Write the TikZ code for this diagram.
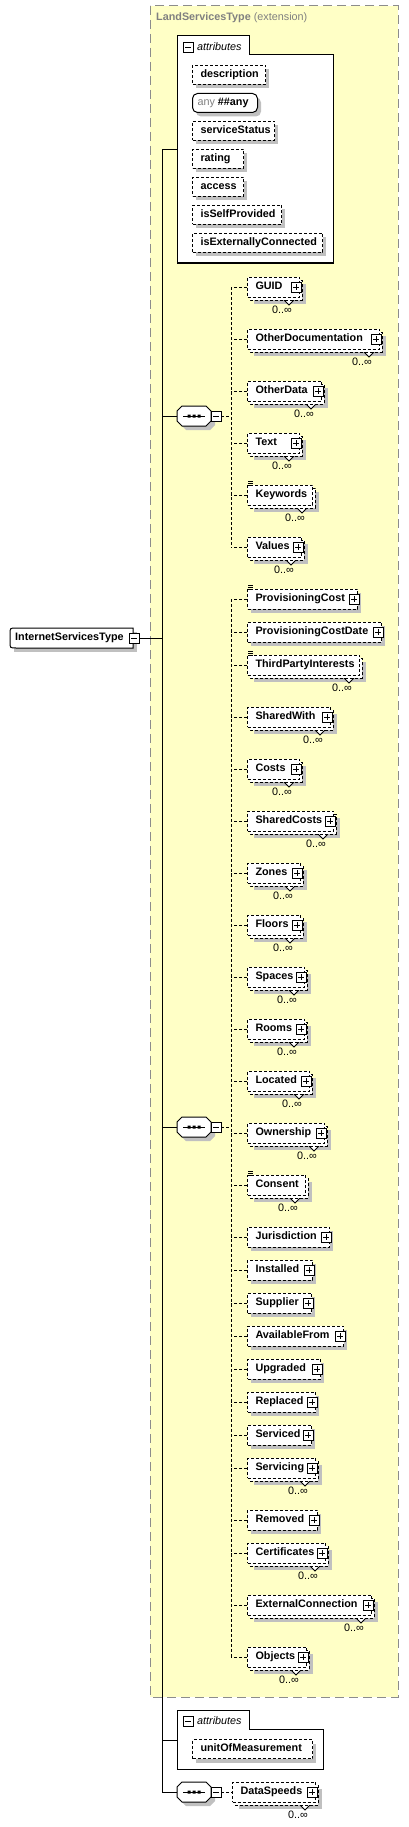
\documentclass[tikz,border=0pt]{standalone}
\usepackage{fontspec}
\setmainfont{Liberation Sans}

\definecolor{extyellow}{RGB}{255,255,198}
\definecolor{framegray}{RGB}{140,140,140}
\definecolor{shadowgray}{RGB}{192,192,192}
\definecolor{titlegray}{RGB}{128,128,128}

\tikzset{
  solidln/.style={line width=1pt},
  dashln/.style={line width=1pt, dash pattern=on 3pt off 2pt},
  shadowfill/.style={fill=shadowgray},
  iconln/.style={line width=0.8pt},
  extframe/.style={draw=framegray, fill=extyellow, line width=1pt, dash pattern=on 9pt off 5pt},
  attrgroup/.style={draw, solidln, fill=white},
  elem/.style={draw, dashln, fill=white, anchor=west, minimum height=20pt, inner xsep=8pt, inner ysep=0pt,
    text height=7.5pt, text depth=2.5pt, align=left, font=\fontsize{10.8}{13}\selectfont\bfseries},
  attr/.style={elem, minimum height=19pt},
  card/.style={inner sep=0pt, font=\fontsize{10.8}{13}\selectfont},
  basetitle/.style={anchor=west, inner sep=0pt, text=titlegray, font=\fontsize{10.8}{13}\selectfont},
  attrlabel/.style={anchor=west, inner sep=0pt, font=\fontsize{10.8}{13}\selectfont\itshape},
  rootname/.style={anchor=west, inner sep=0pt, font=\fontsize{10.8}{13}\selectfont\bfseries},
  anybox/.style={draw, solidln, fill=white, rounded corners=5pt, anchor=west, minimum height=19pt,
    inner xsep=5pt, inner ysep=0pt, text height=7.5pt, text depth=2.5pt, align=left,
    font=\fontsize{10.8}{13}\selectfont\bfseries},
  minusbox/.pic={
    \draw[solidln, fill=white] (-5,-5) rectangle (5,5);
    \draw[solidln] (-3,0) -- (3,0);
  },
  plusbox/.pic={
    \draw[solidln, fill=white] (-5,-5) rectangle (5,5);
    \draw[solidln] (-3,0) -- (3,0) (0,-3) -- (0,3);
  },
  seqsym/.pic={
    \fill[shadowfill] (-13,-1) -- (-8,-6) -- (16,-6) -- (21,-1) -- (21,9) -- (16,14) -- (-8,14) -- (-13,9) -- cycle;
    \draw[solidln, fill=white] (-17,-5) -- (-12,-10) -- (12,-10) -- (17,-5) -- (17,5) -- (12,10) -- (-12,10) -- (-17,5) -- cycle;
    \draw[solidln] (-11,0) -- (11,0);
    \fill (-6.5,-1.5) rectangle (-3.5,1.5) (-1.5,-1.5) rectangle (1.5,1.5) (3.5,-1.5) rectangle (6.5,1.5);
    \draw[solidln, fill=white] (17,-5) rectangle (27,5);
    \draw[solidln] (19,0) -- (25,0);
    \coordinate (-in) at (-17,0);
    \coordinate (-out) at (27,0);
  }
}

\begin{document}
\begin{tikzpicture}[x=1pt, y=-1pt]
\useasboundingbox (0,0) rectangle (408,1827);

\draw[extframe] (150,6) rectangle (398,1697);
\node[basetitle] (base) at (156,18) {\textbf{LandServicesType} (extension)};

% attributes of the base type
\draw[attrgroup] (177,36) -- (249,36) -- (249,55) -- (333,55) -- (333,263) -- (177,263) -- cycle;
\pic at (188,47.5) {minusbox};
\node[attrlabel] (attr1lbl) at (197,47) {attributes};
\coordinate (attr1) at (177,150);

% own attributes
\draw[attrgroup] (177,1710) -- (249,1710) -- (249,1729) -- (323,1729) -- (323,1769) -- (177,1769) -- cycle;
\pic at (188,1721) {minusbox};
\node[attrlabel] (attr2lbl) at (197,1721) {attributes};
\coordinate (attr2) at (177,1740);

\foreach \y/\w/\nm in {75/73/description, 131/82/serviceStatus, 159/51/rating, 187/51/access,
    215/89/isSelfProvided, 243/130/isExternallyConnected, 1749/120/unitOfMeasurement}{
  \pgfmathsetmacro\tw{\w-16}
  \fill[shadowfill] (196,\y-5.5) rectangle (196+\w,\y+13.5);
  \node[attr, text width=\tw pt] (\nm) at (192,\y) {\nm};
}

\fill[shadowfill, rounded corners=5pt] (196,97.5) rectangle (261,116.5);
\node[anybox, text width=55pt] (anyattr) at (192,103) {{\mdseries\color{titlegray}any}\hspace{3pt}\#\#any};

% root element
\fill[shadowfill] (14,632) rectangle (137,652);
\draw[solidln, fill=white] (16,628) -- (133,628) -- (133,648) -- (16,648)
  .. controls (10,648) .. (10,642) -- (10,634) .. controls (10,628) .. (16,628) -- cycle;
\node[rootname] (root) at (15,638) {InternetServicesType};
\pic at (134,638) {minusbox};
\coordinate (rootout) at (139,638);

\pic (seq1) at (194,416) {seqsym};
\pic (seq2) at (194,1127) {seqsym};
\pic (seq3) at (194,1792) {seqsym};

\coordinate (trunk) at (162,150);
\coordinate (bus) at (231,416);

\foreach \x/\y/\w/\nm/\hp/\mo/\ic in {
    247/287/52/GUID/1/1/0, 247/339/132/OtherDocumentation/1/1/0, 247/391/74/OtherData/1/1/0,
    247/443/52/Text/1/1/0, 247/495/65/Keywords/0/1/1, 247/547/54/Values/1/1/0,
    247/599/110/ProvisioningCost/1/0/1, 247/632/134/ProvisioningCostDate/1/0/0,
    247/665/112/ThirdPartyInterests/0/1/1, 247/717/83/SharedWith/1/1/0, 247/769/52/Costs/1/1/0,
    247/821/86/SharedCosts/1/1/0, 247/873/53/Zones/1/1/0, 247/925/53/Floors/1/1/0,
    247/977/57/Spaces/1/1/0, 247/1029/57/Rooms/1/1/0, 247/1081/62/Located/1/1/0,
    247/1133/77/Ownership/1/1/0, 247/1185/58/Consent/0/1/1, 247/1237/82/Jurisdiction/1/0/0,
    247/1270/65/Installed/1/0/0, 247/1303/64/Supplier/1/0/0, 247/1336/96/AvailableFrom/1/0/0,
    247/1369/73/Upgraded/1/0/0, 247/1402/68/Replaced/1/0/0, 247/1435/64/Serviced/1/0/0,
    247/1468/68/Servicing/1/1/0, 247/1520/70/Removed/1/0/0, 247/1553/78/Certificates/1/1/0,
    247/1605/124/ExternalConnection/1/1/0, 247/1657/59/Objects/1/1/0,
    232/1792/83/DataSpeeds/1/1/0}{
  \pgfmathsetmacro\tw{\w-16}
  \ifnum\mo=1
    \fill[shadowfill] (\x+7,\y-3) rectangle (\x+\w+7,\y+17);
    \filldraw[fill=white, iconln] (\x+\w-15,\y+13) -- (\x+\w-10,\y+18) -- (\x+\w-5,\y+13);
    \draw[dashln, fill=white] (\x+3,\y-7) rectangle (\x+\w+3,\y+13);
    \node[card] (\nm-card) at (\x+\w-17,\y+23) {0..∞};
  \else
    \fill[shadowfill] (\x+4,\y-6) rectangle (\x+\w+4,\y+14);
  \fi
  \node[elem, text width=\tw pt] (\nm) at (\x,\y) {\nm};
  \ifnum\hp=1 \pic at (\x+\w-3,\y) {plusbox}; \fi
  \ifnum\ic=1
    \draw[iconln] (\x+1,\y-13.5) -- +(5,0) (\x+1,\y-11.5) -- +(5,0) (\x+1,\y-9.5) -- +(5,0);
  \fi
  \ifdim\x pt>240pt \draw[dashln] (\nm.west) -- (\nm.west -| bus); \fi
}

\draw[solidln] (attr1) -- (trunk) -- (trunk |- seq3-in) -- (seq3-in);
\draw[solidln] (rootout) -- (rootout -| trunk);
\draw[solidln] (seq1-in -| trunk) -- (seq1-in);
\draw[solidln] (seq2-in -| trunk) -- (seq2-in);
\draw[solidln] (attr2 -| trunk) -- (attr2);

\draw[dashln] (seq1-out) -- (bus);
\draw[dashln] (GUID.west -| bus) -- (Values.west -| bus);
\draw[dashln] (seq2-out) -- (seq2-out -| bus);
\draw[dashln] (ProvisioningCost.west -| bus) -- (Objects.west -| bus);
\draw[dashln] (seq3-out) -- (DataSpeeds.west);
\end{tikzpicture}
\end{document}
